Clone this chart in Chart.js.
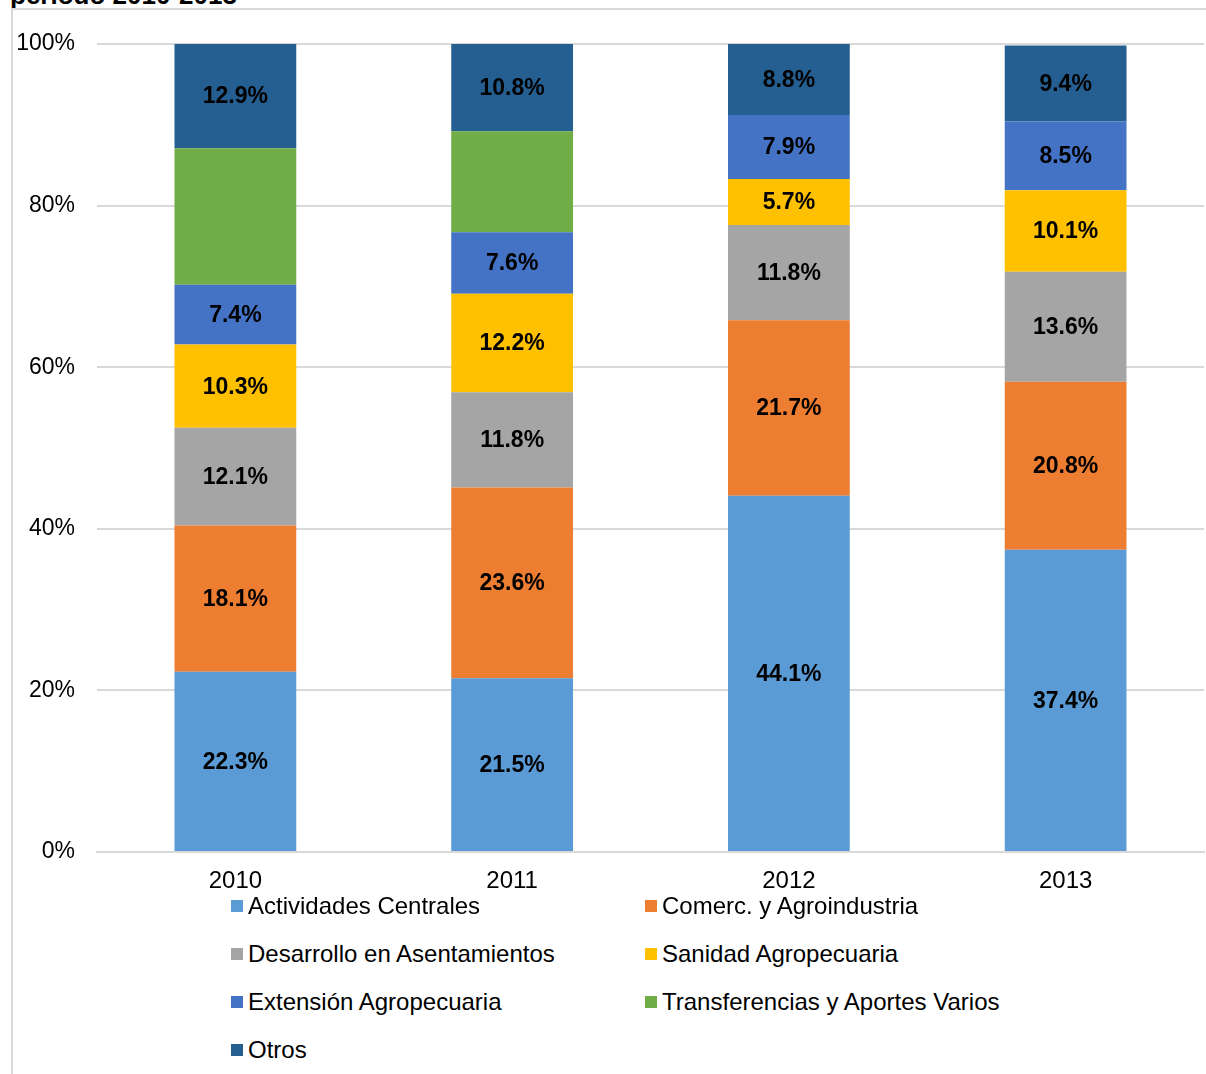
<!DOCTYPE html>
<html>
<head>
<meta charset="utf-8">
<script src="https://cdn.jsdelivr.net/npm/chart.js@4"></script>
<style>
  body { margin: 0; background: #fff; font-family: "Liberation Sans", Arial, sans-serif; }
  #wrap { position: relative; width: 1206px; height: 1074px; overflow: hidden; }
  #title { position: absolute; left: 10px; top: -18px; font-size: 26px; line-height: 26px; font-weight: bold; color: #000; white-space: nowrap; }
  #frame { position: absolute; left: 11px; top: 8px; right: 0; bottom: 0; border-left: 2px solid #d9d9d9; border-top: 2px solid #d9d9d9; }
  #chartBox { position: absolute; left: 0; top: 0; width: 1206px; height: 895px; }
  #legend { position: absolute; left: 231px; top: 890px; width: 900px; }
  .lg-item { position: absolute; display: flex; align-items: center; font-size: 24px; color: #000; white-space: nowrap; height: 32px; }
  .lg-box { width: 12px; height: 12px; margin-right: 5px; }
</style>
</head>
<body>
<div id="wrap">
  <div id="title">periodo 2010-2013</div>
  <div id="frame"></div>
  <div id="chartBox"><canvas id="chart"></canvas></div>
  <div id="legend"></div>
</div>
<script>
  const years = ['2010', '2011', '2012', '2013'];
  const seriesNames = [
    'Actividades Centrales',
    'Comerc. y Agroindustria',
    'Desarrollo en Asentamientos',
    'Sanidad Agropecuaria',
    'Extensión Agropecuaria',
    'Transferencias y Aportes Varios',
    'Otros'
  ];
  const actividades = [22.3, 21.5, 44.1, 37.4];
  const comerc = [18.1, 23.6, 21.7, 20.8];
  const desarrollo = [12.1, 11.8, 11.8, 13.6];
  const sanidad = [10.3, 12.2, 5.7, 10.1];
  const extension = [7.4, 7.6, 7.9, 8.5];
  const transferencias = [16.9, 12.5, 0, 0];
  const otros = [12.9, 10.8, 8.8, 9.4];
  const yTicks = [0, 20, 40, 60, 80, 100];

  const colors = ['#5B9BD5', '#ED7D31', '#A5A5A5', '#FFC000', '#4472C4', '#70AD47', '#255E91'];
  const values = [actividades, comerc, desarrollo, sanidad, extension, transferencias, otros];
  // labels are not shown on the green series in the original
  const showLabel = [true, true, true, true, true, false, true];

  const datasets = seriesNames.map((name, i) => ({
    label: name,
    data: values[i],
    backgroundColor: colors[i],
    borderWidth: 0,
    barPercentage: 0.44,
    categoryPercentage: 1
  }));

  const labelPlugin = {
    id: 'segLabels',
    afterDatasetsDraw(chart) {
      const ctx = chart.ctx;
      ctx.save();
      ctx.font = 'bold 23px "Liberation Sans", Arial, sans-serif';
      ctx.fillStyle = '#000';
      ctx.textAlign = 'center';
      ctx.textBaseline = 'middle';
      chart.data.datasets.forEach((ds, i) => {
        if (!showLabel[i]) return;
        chart.getDatasetMeta(i).data.forEach((bar, j) => {
          const v = ds.data[j];
          if (!v) return;
          const mid = (bar.y + bar.base) / 2;
          ctx.fillText(v.toFixed(1) + '%', bar.x, mid + 1);
        });
      });
      ctx.restore();
    }
  };

  new Chart(document.getElementById('chart'), {
    type: 'bar',
    data: { labels: years, datasets },
    plugins: [labelPlugin],
    options: {
      responsive: true,
      maintainAspectRatio: false,
      animation: false,
      layout: { padding: { left: 11, right: 2, top: 44, bottom: 0 } },
      plugins: { legend: { display: false }, tooltip: { enabled: false } },
      scales: {
        x: {
          stacked: true,
          grid: { display: false, drawTicks: false },
          border: { color: '#d9d9d9', width: 2 },
          ticks: { color: '#000', padding: 15, font: { family: '"Liberation Sans", Arial, sans-serif', size: 24 } },
          afterFit(scale) { scale.height = 43; }
        },
        y: {
          stacked: true,
          min: 0,
          max: 100,
          afterBuildTicks(scale) { scale.ticks = yTicks.map(v => ({ value: v })); },
          grid: { color: '#d9d9d9', lineWidth: 2, drawTicks: false },
          border: { display: false },
          ticks: {
            color: '#000',
            padding: 22,
            font: { family: '"Liberation Sans", Arial, sans-serif', size: 23 },
            callback: v => v + '%'
          },
          afterFit(scale) { scale.width = 86; }
        }
      }
    }
  });

  // legend in two columns, as in the original
  const legend = document.getElementById('legend');
  seriesNames.forEach((name, i) => {
    const item = document.createElement('div');
    item.className = 'lg-item';
    item.style.left = (i % 2 === 0 ? 0 : 414) + 'px';
    item.style.top = (Math.floor(i / 2) * 48) + 'px';
    item.innerHTML = '<span class="lg-box" style="background:' + colors[i] + '"></span>' + name;
    legend.appendChild(item);
  });
</script>
</body>
</html>
